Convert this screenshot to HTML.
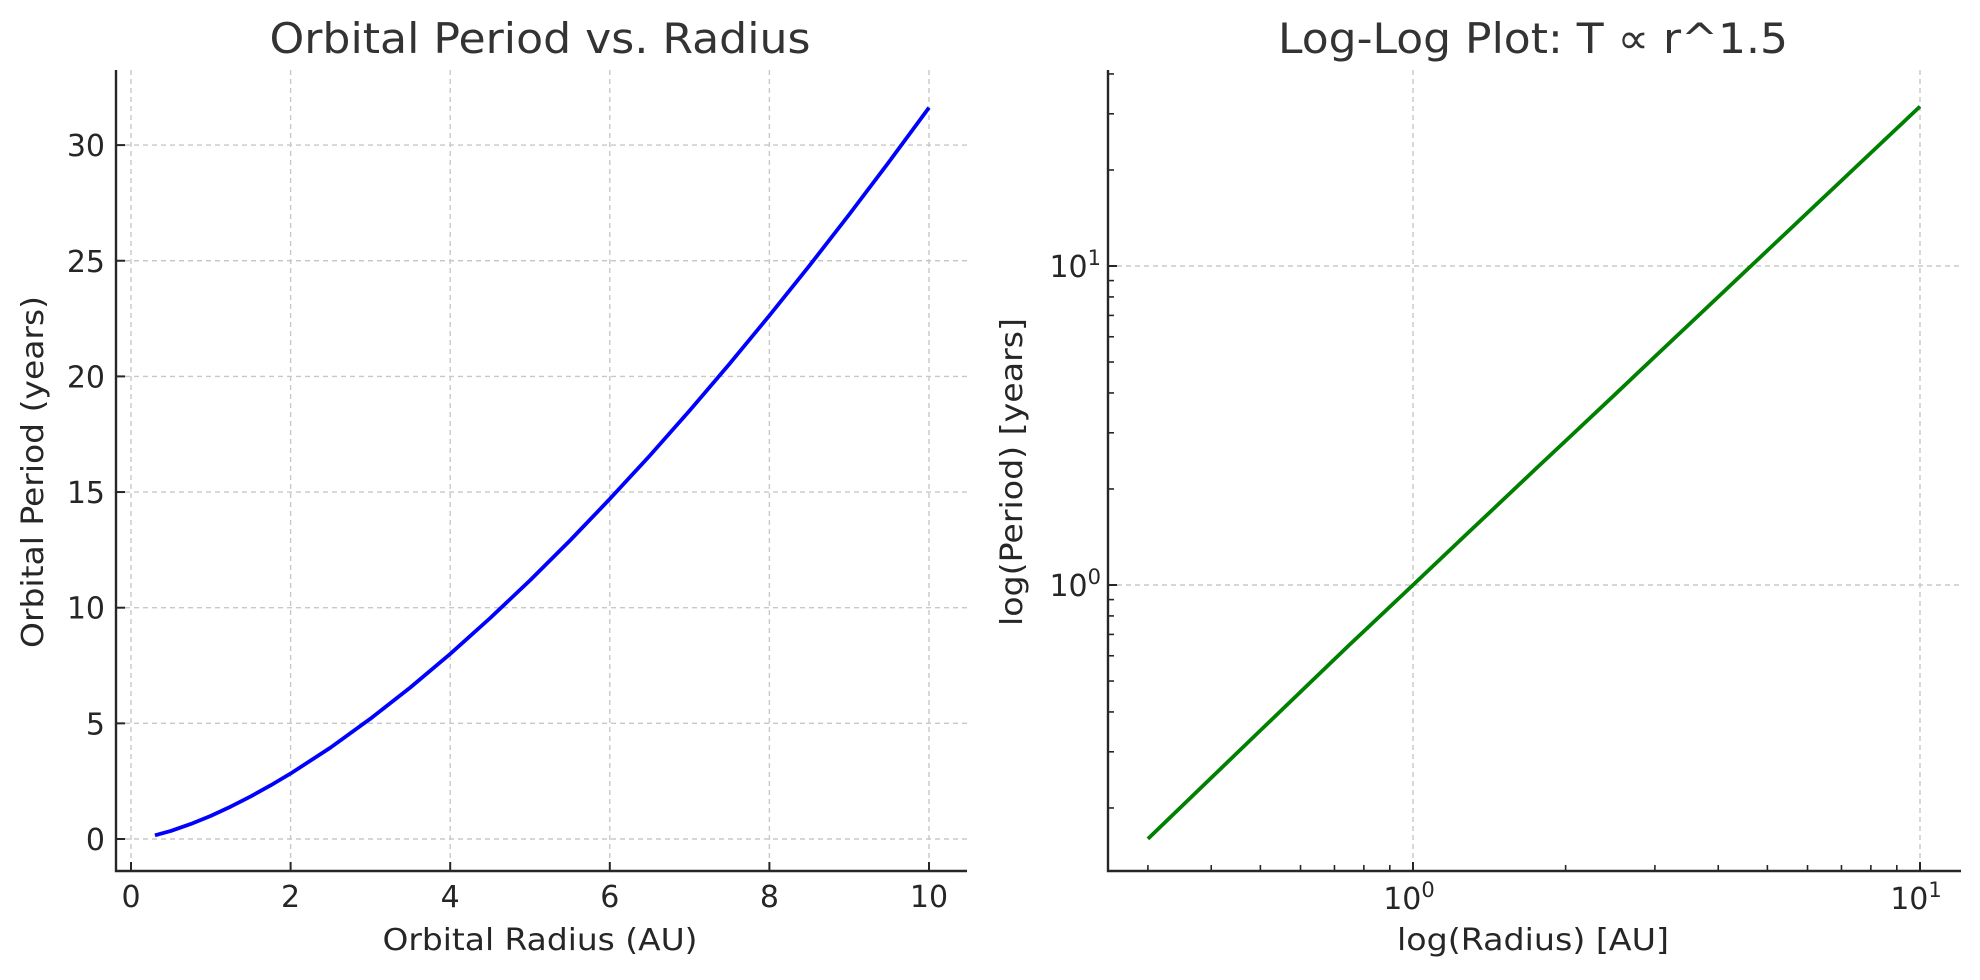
<!DOCTYPE html>
<html><head><meta charset="utf-8"><style>
body{margin:0;background:#fff}
svg{display:block;font-family:"DejaVu Sans","Liberation Sans",sans-serif}
</style></head><body>
<svg id="c" width="1980" height="980" viewBox="0 0 1980 980"></svg>
<script>
const radii=[0.3,0.5,0.75,1,1.25,1.5,1.75,2,2.5,3,3.5,4,4.5,5,5.5,6,6.5,7,7.5,8,8.5,9,9.5,10];
const periods=[0.16,0.35,0.65,1,1.4,1.84,2.32,2.83,3.95,5.2,6.55,8,9.55,11.18,12.9,14.7,16.57,18.52,20.54,22.63,24.78,27,29.28,31.62];
const linXTicks=[0,2,4,6,8,10];
const linYTicks=[0,5,10,15,20,25,30];
const logMajor=[0,1];
const logMinorX=[0.3,0.4,0.5,0.6,0.7,0.8,0.9,2,3,4,5,6,7,8,9];
const logMinorY=[0.2,0.3,0.4,0.5,0.6,0.7,0.8,0.9,2,3,4,5,6,7,8,9,20,30,40];

const NS="http://www.w3.org/2000/svg";
const svg=document.getElementById('c');
function mk(tag,attrs,parent){const e=document.createElementNS(NS,tag);for(const k in attrs)e.setAttribute(k,attrs[k]);(parent||svg).appendChild(e);return e;}
const ink="#262626";
const grid="#c8c8c8";

// ---------- Left chart ----------
const L={x0:116,x1:967,y0:70,y1:871};
const lx=v=>131+v*79.8;
const ly=v=>839-v*23.13;
const gL=mk('g',{});


linXTicks.forEach(t=>{
  const g=mk('line',{x1:lx(t),x2:lx(t),y1:L.y0,y2:L.y1,stroke:grid,"stroke-width":1.4,"stroke-dasharray":"5,4"},gL);
  
  
  mk('line',{x1:lx(t),x2:lx(t),y1:L.y1,y2:L.y1-9,stroke:ink,"stroke-width":2},gL);
  const tx=mk('text',{x:lx(t),y:907,"text-anchor":"middle","font-size":30,fill:ink},gL);
  tx.textContent=t;
  
  
});
linYTicks.forEach(t=>{
  const g=mk('line',{x1:L.x0,x2:L.x1,y1:ly(t),y2:ly(t),stroke:grid,"stroke-width":1.4,"stroke-dasharray":"5,4"},gL);
  
  
  mk('line',{x1:L.x0,x2:L.x0+9,y1:ly(t),y2:ly(t),stroke:ink,"stroke-width":2},gL);
  const tx=mk('text',{x:105,y:ly(t)+11,"text-anchor":"end","font-size":30,fill:ink},gL);
  tx.textContent=t;
  
  
});
const pL=mk('polyline',{points:radii.map((r,i)=>lx(r)+","+ly(periods[i])).join(" "),fill:"none",stroke:"#0000ff","stroke-width":3.8,"stroke-linejoin":"round"},gL);


mk('path',{d:`M${L.x0},${L.y0}V${L.y1}H${L.x1}`,fill:"none",stroke:ink,"stroke-width":2.4},gL);
let t1=mk('text',{x:540,y:53,"text-anchor":"middle","font-size":42,fill:"#333",textLength:541,lengthAdjust:"spacingAndGlyphs"},gL);
t1.textContent="Orbital Period vs. Radius";


let xl=mk('text',{x:540,y:950,"text-anchor":"middle","font-size":30,fill:ink,textLength:315,lengthAdjust:"spacingAndGlyphs"},gL);
xl.textContent="Orbital Radius (AU)";


let yl=mk('text',{x:0,y:0,"text-anchor":"middle","font-size":30,fill:ink,textLength:352,lengthAdjust:"spacingAndGlyphs",transform:"translate(43,472) rotate(-90)"},gL);
yl.textContent="Orbital Period (years)";



// ---------- Right chart ----------
const R={x0:1108,x1:1961,y0:70,y1:871};
const rx=v=>1413+Math.log10(v)*507;
const ry=v=>585-Math.log10(v)*319;
const gR=mk('g',{});


logMajor.forEach(p=>{
  const v=Math.pow(10,p);
  const gx=mk('line',{x1:rx(v),x2:rx(v),y1:R.y0,y2:R.y1,stroke:grid,"stroke-width":1.4,"stroke-dasharray":"5,4"},gR);
  
  
  const gy=mk('line',{x1:R.x0,x2:R.x1,y1:ry(v),y2:ry(v),stroke:grid,"stroke-width":1.4,"stroke-dasharray":"5,4"},gR);
  
  
  mk('line',{x1:rx(v),x2:rx(v),y1:R.y1,y2:R.y1-9,stroke:ink,"stroke-width":2},gR);
  mk('line',{x1:R.x0,x2:R.x0+9,y1:ry(v),y2:ry(v),stroke:ink,"stroke-width":2},gR);
  const tx=mk('text',{x:rx(v)-4,y:909,"text-anchor":"middle","font-size":30,fill:ink},gR);
  tx.innerHTML='10<tspan dy="-12" font-size="21">'+p+'</tspan>';
  
  
  const ty=mk('text',{x:1101,y:ry(v)+11,"text-anchor":"end","font-size":30,fill:ink},gR);
  ty.innerHTML='10<tspan dy="-12" font-size="21">'+p+'</tspan>';
  
  
});
logMinorX.forEach(v=>{mk('line',{x1:rx(v),x2:rx(v),y1:R.y1,y2:R.y1-6,stroke:ink,"stroke-width":1.6},gR);});
logMinorY.forEach(v=>{mk('line',{x1:R.x0,x2:R.x0+6,y1:ry(v),y2:ry(v),stroke:ink,"stroke-width":1.6},gR);});
const pR=mk('polyline',{points:radii.map((r,i)=>rx(r)+","+ry(periods[i])).join(" "),fill:"none",stroke:"#008000","stroke-width":3.8,"stroke-linejoin":"round"},gR);


mk('path',{d:`M${R.x0},${R.y0}V${R.y1}H${R.x1}`,fill:"none",stroke:ink,"stroke-width":2.4},gR);
let t2=mk('text',{x:1533,y:53,"text-anchor":"middle","font-size":42,fill:"#333",textLength:510,lengthAdjust:"spacingAndGlyphs"},gR);
t2.textContent="Log-Log Plot: T ∝ r^1.5";


let xl2=mk('text',{x:1533,y:950,"text-anchor":"middle","font-size":30,fill:ink,textLength:272,lengthAdjust:"spacingAndGlyphs"},gR);
xl2.textContent="log(Radius) [AU]";


let yl2=mk('text',{x:0,y:0,"text-anchor":"middle","font-size":30,fill:ink,textLength:308,lengthAdjust:"spacingAndGlyphs",transform:"translate(1022,472) rotate(-90)"},gR);
yl2.textContent="log(Period) [years]";


</script>
</body></html>
